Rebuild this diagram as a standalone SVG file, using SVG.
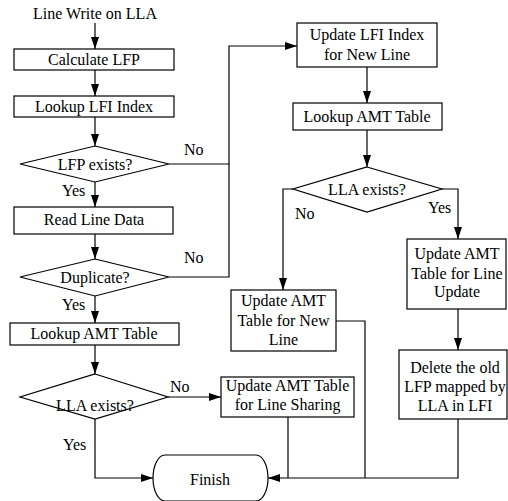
<svg xmlns="http://www.w3.org/2000/svg" width="508" height="501" viewBox="0 0 508 501">
<defs>
<marker id="ah" markerUnits="userSpaceOnUse" markerWidth="13" markerHeight="9" refX="12" refY="4" orient="auto">
<path d="M0,0 L12,4 L0,8 Z" fill="#000"/>
</marker>
<style>
text{font-family:'Liberation Serif','Times New Roman',serif;font-size:16px;fill:#000;text-anchor:middle}
.n rect,.n polygon,.n path{fill:#fff;stroke:#000;stroke-width:1.2}
.c path{fill:none;stroke:#000;stroke-width:1.2}
.c .a{marker-end:url(#ah)}
text.l{text-anchor:start}
</style>
</defs>
<rect width="508" height="501" fill="#fff"/>
<g id="connectors" class="c">
<path class="a" d="M95,23 V49"/>
<path class="a" d="M95,70 V96"/>
<path class="a" d="M95,117 V146"/>
<path class="a" d="M169,164 H229 V46 H297"/>
<path d="M169,277 H229 V164"/>
<path class="a" d="M95,182 V207"/>
<path class="a" d="M95,234 V259"/>
<path class="a" d="M95,296 V323"/>
<path class="a" d="M95,345 V374"/>
<path class="a" d="M168,397 H221"/>
<path class="a" d="M95,419 V478 H153"/>
<path class="a" d="M367,67 V103"/>
<path class="a" d="M367,130 V167"/>
<path class="a" d="M293,189 H283 V290"/>
<path class="a" d="M442,189 H458 V239"/>
<path class="a" d="M458,309 V350"/>
<path d="M336,321 H365 V478"/>
<path d="M288,417 V478"/>
<path class="a" d="M458,419 V478 H268"/>
</g>
<g id="labels">
<text class="l" x="184" y="155">No</text>
<text class="l" x="62" y="196">Yes</text>
<text class="l" x="184" y="263">No</text>
<text class="l" x="62" y="310">Yes</text>
<text class="l" x="170" y="392">No</text>
<text class="l" x="63" y="450">Yes</text>
<text class="l" x="295" y="219">No</text>
<text class="l" x="428" y="213">Yes</text>
</g>
<g id="start" class="n"><text x="95" y="19">Line Write on LLA</text></g>
<g id="calc-lfp" class="n"><rect x="14" y="49" width="160" height="21"/><text x="94" y="65">Calculate LFP</text></g>
<g id="lookup-lfi" class="n"><rect x="14" y="96" width="160" height="21"/><text x="94" y="112">Lookup LFI Index</text></g>
<g id="lfp-exists" class="n"><polygon points="95,146 169,164 95,182 20,164"/><text x="95" y="170">LFP exists?</text></g>
<g id="read-line" class="n"><rect x="14" y="207" width="159" height="27"/><text x="94" y="225">Read Line Data</text></g>
<g id="duplicate" class="n"><polygon points="95,259 169,277 95,296 20,277"/><text x="95" y="283">Duplicate?</text></g>
<g id="lookup-amt-1" class="n"><rect x="10" y="323" width="169" height="22"/><text x="94" y="339">Lookup AMT Table</text></g>
<g id="lla-exists-1" class="n"><polygon points="95,374 168,397 95,419 20,397"/><text x="95" y="411">LLA exists?</text></g>
<g id="line-sharing" class="n"><rect x="221" y="377" width="133" height="40"/><text x="287.5" y="391">Update AMT Table</text><text x="287.5" y="410">for Line Sharing</text></g>
<g id="finish" class="n"><path d="M165,455 H256 A12,23 0 0 1 256,501 H165 A12,23 0 0 1 165,455 Z"/><text x="210" y="485">Finish</text></g>
<g id="update-lfi" class="n"><rect x="297" y="23" width="140" height="44"/><text x="367" y="40">Update LFI Index</text><text x="367" y="60">for New Line</text></g>
<g id="lookup-amt-2" class="n"><rect x="293" y="103" width="149" height="27"/><text x="367" y="122">Lookup AMT Table</text></g>
<g id="lla-exists-2" class="n"><polygon points="367,167 442,189 367,212 293,189"/><text x="367" y="195">LLA exists?</text></g>
<g id="amt-new-line" class="n"><rect x="231" y="290" width="105" height="61"/><text x="283.5" y="306">Update AMT</text><text x="283.5" y="326">Table for New</text><text x="283.5" y="345">Line</text></g>
<g id="amt-line-update" class="n"><rect x="407" y="239" width="99" height="70"/><text x="457" y="259">Update AMT</text><text x="457" y="279">Table for Line</text><text x="457" y="297">Update</text></g>
<g id="delete-old" class="n"><rect x="399" y="350" width="108" height="69"/><text x="455" y="373">Delete the old</text><text x="455" y="392">LFP mapped by</text><text x="455" y="411">LLA in LFI</text></g>
</svg>
